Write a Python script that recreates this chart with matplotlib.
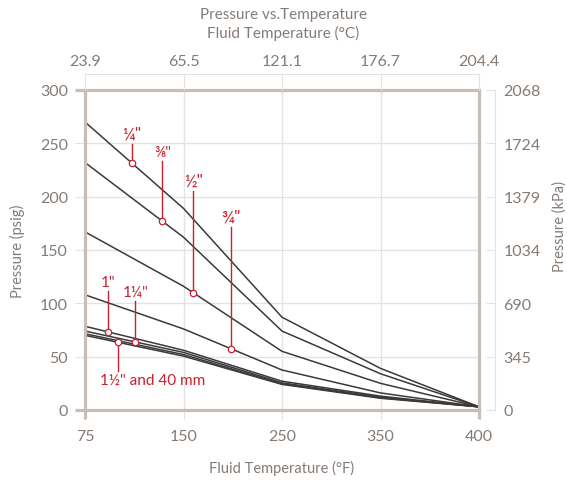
import numpy as np
import matplotlib
matplotlib.use("Agg")
import matplotlib.pyplot as plt

plt.rcParams['font.family'] = ['Lato', 'DejaVu Sans']

# ---- data ----
temps_f = ['75', '150', '250', '350', '400']
temps_c = ['23.9', '65.5', '121.1', '176.7', '204.4']
psig_ticks = [0, 50, 100, 150, 200, 250, 300]
kpa_labels = ['0', '345', '690', '1034', '1379', '1724', '2068']

s_1_4 = [270, 189, 87, 39, 3]
s_3_8 = [232, 162, 74, 34, 3]
s_1_2 = [167, 116, 55, 25, 3]
s_3_4 = [108, 76, 37.5, 16, 3]
s_1 = [78.5, 56, 27, 13, 3]
s_1_1_4 = [74, 54, 25.5, 12, 3]
s_1_1_2 = [71.5, 52, 24.5, 11.5, 3]
s_40mm = [70, 50.5, 24, 11, 3]
series = [s_1_4, s_3_8, s_1_2, s_3_4, s_1, s_1_1_4, s_1_1_2, s_40mm]

# annotations: label, series, x position (category units), leader end (psig), side, size
annotations = [
    ('¼"', s_1_4, 0.477, 249.4, 'up', 12.5),
    ('⅜"', s_3_8, 0.785, 233.4, 'up', 11),
    ('½"', s_1_2, 1.10, 205.3, 'up', 12.5),
    ('¾"', s_3_4, 1.48, 171.6, 'up', 12.5),
    ('1"', s_1, 0.23, 111.6, 'up', 11),
    ('1¼"', s_1_1_4, 0.51, 102.2, 'up', 11),
    ('1½" and 40 mm', s_40mm, 0.33, 36.6, 'down', 11),
]

# ---- styles ----
TXT = '#857b75'
SPINE = '#c9beb5'
GRID = '#e3e3e3'
LINE = '#3a3a3a'
RED = '#c8202f'

fig = plt.figure(figsize=(5.67, 4.81), dpi=100)
W, H = 567, 481
ax = fig.add_axes([85 / W, 1 - 411 / H, 394 / W, 320 / H])
xpos = np.arange(len(temps_f))

for s in series:
    ax.plot(xpos, s, color=LINE, lw=1.1, zorder=3, solid_joinstyle='miter')

ax.set_xlim(xpos[0], xpos[-1])
ax.set_ylim(psig_ticks[0], psig_ticks[-1])
ax.set_xticks(xpos)
ax.set_xticklabels(temps_f)
ax.set_yticks(psig_ticks)
ax.grid(True, color=GRID, lw=1, zorder=0)
ax.set_axisbelow(True)
for sp in ax.spines.values():
    sp.set_color(SPINE)
    sp.set_linewidth(2.3)
    sp.set_zorder(4)
ax.tick_params(axis='x', length=6.5, width=0.8, color=GRID, pad=7,
               labelsize=11.5, labelcolor=TXT)
ax.tick_params(axis='y', length=7.2, width=0.8, color=GRID, pad=5,
               labelsize=11.5, labelcolor=TXT)

# spine extensions
ext_v = 9 / 320
ext_h = 10 / 394
kw = dict(transform=ax.transAxes, clip_on=False, color=SPINE, lw=2.3, zorder=4,
          solid_capstyle='butt')
ax.plot([0, 0], [0, -ext_v], **kw)
ax.plot([1, 1], [0, -ext_v], **kw)
ax.plot([-ext_h, 0], [0, 0], **kw)
ax.plot([-ext_h, 0], [1, 1], **kw)

# annotations
for text, s, xa, yend, side, size in annotations:
    ya = np.interp(xa, xpos, s)
    ax.plot([xa, xa], [ya, yend], color=RED, lw=1.0, zorder=5, clip_on=False)
    ax.plot([xa], [ya], marker='o', ms=4.6, mfc='white', mec=RED, mew=0.9,
            zorder=6, clip_on=False)
    if side == 'up':
        ax.text(xa, yend + 2, text, color=RED, fontsize=size, ha='center',
                va='bottom', zorder=6)
    else:
        ax.text(xa - 0.18, yend - 2, text, color=RED, fontsize=size, ha='left',
                va='top', zorder=6)

# top axis (Celsius)
axt = ax.twiny()
axt.set_xlim(ax.get_xlim())
axt.set_xticks(xpos)
axt.set_xticklabels(temps_c)
for k, sp in axt.spines.items():
    sp.set_visible(k == 'top')
axt.spines['top'].set_position(('outward', 11.5))
axt.spines['top'].set_color(GRID)
axt.spines['top'].set_linewidth(0.8)
axt.tick_params(axis='x', direction='in', length=11.5, width=0.8, color=GRID,
                pad=4, labelsize=11.5, labelcolor=TXT)

# right axis (kPa)
axr = ax.twinx()
axr.set_ylim(ax.get_ylim())
axr.set_yticks(psig_ticks)
axr.set_yticklabels(kpa_labels)
for k, sp in axr.spines.items():
    sp.set_visible(k == 'right')
axr.spines['right'].set_position(('outward', 11.5))
axr.spines['right'].set_color(GRID)
axr.spines['right'].set_linewidth(0.8)
axr.spines['right'].set_bounds(psig_ticks[0], psig_ticks[-1])
axr.tick_params(axis='y', direction='in', length=6.5, width=0.8, color=GRID,
                pad=6, labelsize=11.5, labelcolor=TXT)

# texts
fig.text(283 / W, 1 - 15 / H, 'Pressure vs.Temperature', ha='center', va='center',
         fontsize=11, color=TXT)
fig.text(283 / W, 1 - 33 / H, 'Fluid Temperature (°C)', ha='center', va='center',
         fontsize=11, color=TXT)
fig.text(282 / W, 1 - 468 / H, 'Fluid Temperature (°F)', ha='center', va='center',
         fontsize=10.5, color=TXT)
fig.text(17 / W, 1 - 251 / H, 'Pressure (psig)', ha='center', va='center',
         rotation=90, fontsize=10.5, color=TXT)
fig.text(560 / W, 1 - 227 / H, 'Pressure (kPa)', ha='center', va='center',
         rotation=90, fontsize=10.5, color=TXT)

fig.savefig('out.png', dpi=100)
